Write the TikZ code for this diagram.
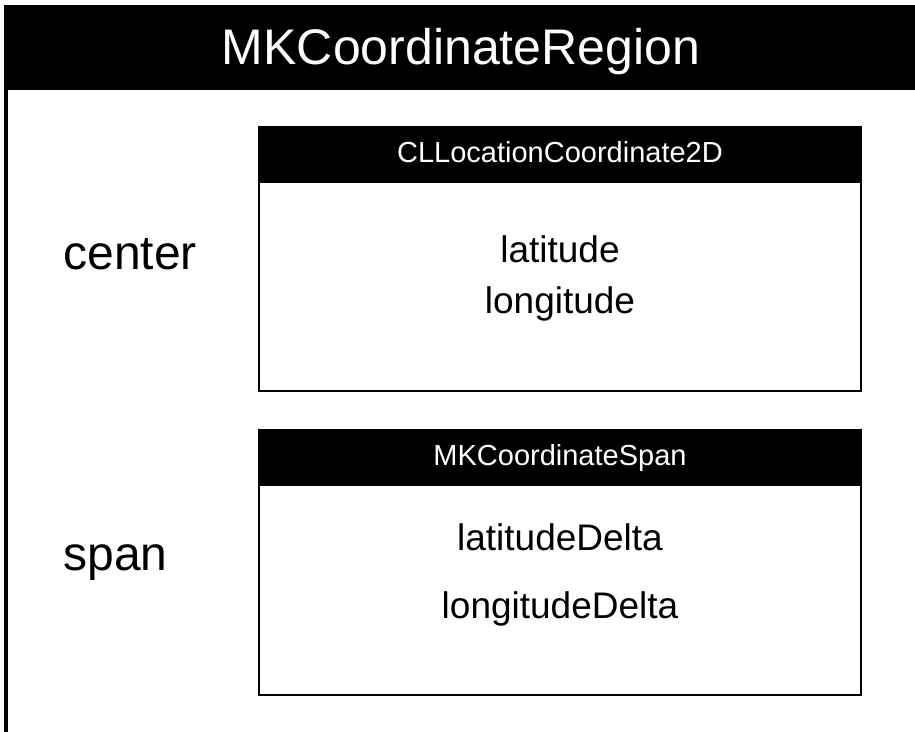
\documentclass[tikz,border=0pt]{standalone}
\usepackage{fontspec}
\setmainfont{Liberation Sans}
\usetikzlibrary{positioning}

\tikzset{
  titletext/.style={anchor=base, text=white, inner sep=0pt, font=\fontsize{25}{30}\selectfont},
  headtext/.style={anchor=base, text=white, inner sep=0pt, font=\fontsize{14.5}{17}\selectfont},
  fieldtext/.style={anchor=base, inner sep=0pt, font=\fontsize{18.5}{22}\selectfont},
  membertext/.style={anchor=base west, inner sep=0pt, font=\fontsize{24}{29}\selectfont},
  boxline/.style={draw=black, line width=1pt}
}

\begin{document}
\begin{tikzpicture}[x=0.5pt, y=-0.5pt]
  \useasboundingbox (0,0) rectangle (915,732);

  % Outer region
  \fill[black] (4,5) rectangle (915,90);
  \draw[line width=1.6pt] (6,90) -- (6,732);
  \node[titletext] (region) at (461,65) {MKCoordinateRegion};

  % center
  \node[membertext] (center) at (63,270) {center};
  \fill[black] (259,127) rectangle (861,183);
  \draw[boxline] (259,127) rectangle (861,391);
  \node[headtext] (coordhead) at (560,163) {CLLocationCoordinate2D};
  \node[fieldtext] (lat) at (560,263) {latitude};
  \node[fieldtext] (lon) at (560,314) {longitude};

  % span
  \node[membertext] (span) at (63,570) {span};
  \fill[black] (259,430) rectangle (861,486);
  \draw[boxline] (259,430) rectangle (861,695);
  \node[headtext] (spanhead) at (560,465) {MKCoordinateSpan};
  \node[fieldtext] (latdelta) at (560,550) {latitudeDelta};
  \node[fieldtext] (londelta) at (560,618) {longitudeDelta};
\end{tikzpicture}
\end{document}
